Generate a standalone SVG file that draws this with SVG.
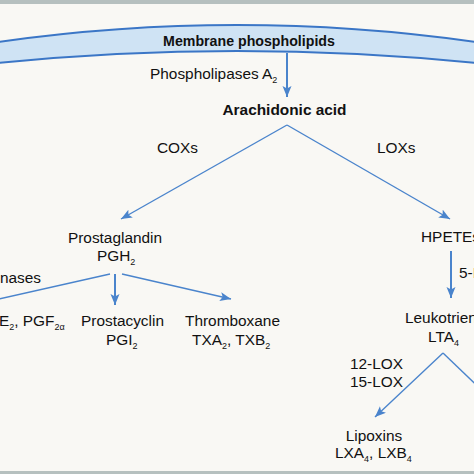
<svg xmlns="http://www.w3.org/2000/svg" width="474" height="474" viewBox="0 0 474 474">
<defs>
<style>
text{font-family:"Liberation Sans",Arial,sans-serif;font-size:15.4px;fill:#111;}
.b{font-weight:bold;}
.sub{font-size:9px;}
.ln{stroke:#4a84cc;fill:none;stroke-width:1.4;}
.th{stroke-width:2;}
</style>
<marker id="ah" markerUnits="userSpaceOnUse" markerWidth="12" markerHeight="10" refX="11" refY="4.5" orient="auto">
<path d="M0,0 L11,4.5 L0,9 L2.5,4.5 Z" fill="#4a84cc"/>
</marker>
</defs>
<rect x="0" y="0" width="474" height="474" fill="#f9f8f4"/>
<rect x="0" y="0" width="474" height="4" fill="#b6c0bf"/>
<rect x="0" y="471" width="474" height="3" fill="#b6c0bf"/>

<g id="membrane">
<path d="M-2,42 Q237,8 476,42 L476,63 Q237,39 -2,63 Z" fill="#cfe3f4"/>
<path d="M-2,42 Q237,8 476,42" fill="none" stroke="#3b76c6" stroke-width="2"/>
<path d="M-2,63 Q237,39 476,63" fill="none" stroke="#3b76c6" stroke-width="2"/>
<text class="b" x="249" y="46" text-anchor="middle" style="font-size:14.2px">Membrane phospholipids</text>
</g>

<g id="connectors">
<path class="ln th" d="M287,53 L287,97" marker-end="url(#ah)"/>
<path class="ln" d="M287,125 L121,219" marker-end="url(#ah)"/>
<path class="ln" d="M287,125 L450,219" marker-end="url(#ah)"/>
<path class="ln" d="M110,274 L-10,301"/>
<path class="ln th" d="M115,274 L115,305" marker-end="url(#ah)"/>
<path class="ln" d="M122,274 L231,299" marker-end="url(#ah)"/>
<path class="ln th" d="M451,251 L451,298" marker-end="url(#ah)"/>
<path class="ln" d="M443,353 L375,417" marker-end="url(#ah)"/>
<path class="ln" d="M443,353 L490,398"/>
</g>

<g id="labels">
<text x="150" y="79">Phospholipases A<tspan class="sub" dy="4">2</tspan></text>
<text x="157" y="152.5">COXs</text>
<text x="377" y="152.5">LOXs</text>
<text x="0" y="283">nases</text>
<text x="459" y="278">5-LOX</text>
<text x="350" y="369">12-LOX</text>
<text x="350" y="387">15-LOX</text>
</g>

<g id="arachidonic">
<text class="b" x="222.5" y="115">Arachidonic acid</text>
</g>

<g id="pgh2">
<text x="115" y="243" text-anchor="middle">Prostaglandin</text>
<text x="97" y="261">PGH<tspan class="sub" dy="4">2</tspan></text>
</g>

<g id="pge">
<text x="-1" y="326">E<tspan class="sub" dy="4">2</tspan><tspan dy="-4">, PGF</tspan><tspan class="sub" dy="4">2α</tspan></text>
</g>

<g id="prostacyclin">
<text x="81" y="326">Prostacyclin</text>
<text x="106" y="345">PGI<tspan class="sub" dy="4">2</tspan></text>
</g>

<g id="thromboxane">
<text x="185" y="326">Thromboxane</text>
<text x="192" y="345">TXA<tspan class="sub" dy="4">2</tspan><tspan dy="-4">, TXB</tspan><tspan class="sub" dy="4">2</tspan></text>
</g>

<g id="hpetes">
<text x="421" y="242">HPETEs</text>
</g>

<g id="lta4">
<text x="405" y="323">Leukotriene</text>
<text x="428" y="342">LTA<tspan class="sub" dy="4">4</tspan></text>
</g>

<g id="lipoxins">
<text x="374" y="441" text-anchor="middle">Lipoxins</text>
<text x="335" y="458">LXA<tspan class="sub" dy="4">4</tspan><tspan dy="-4">, LXB</tspan><tspan class="sub" dy="4">4</tspan></text>
</g>
</svg>
